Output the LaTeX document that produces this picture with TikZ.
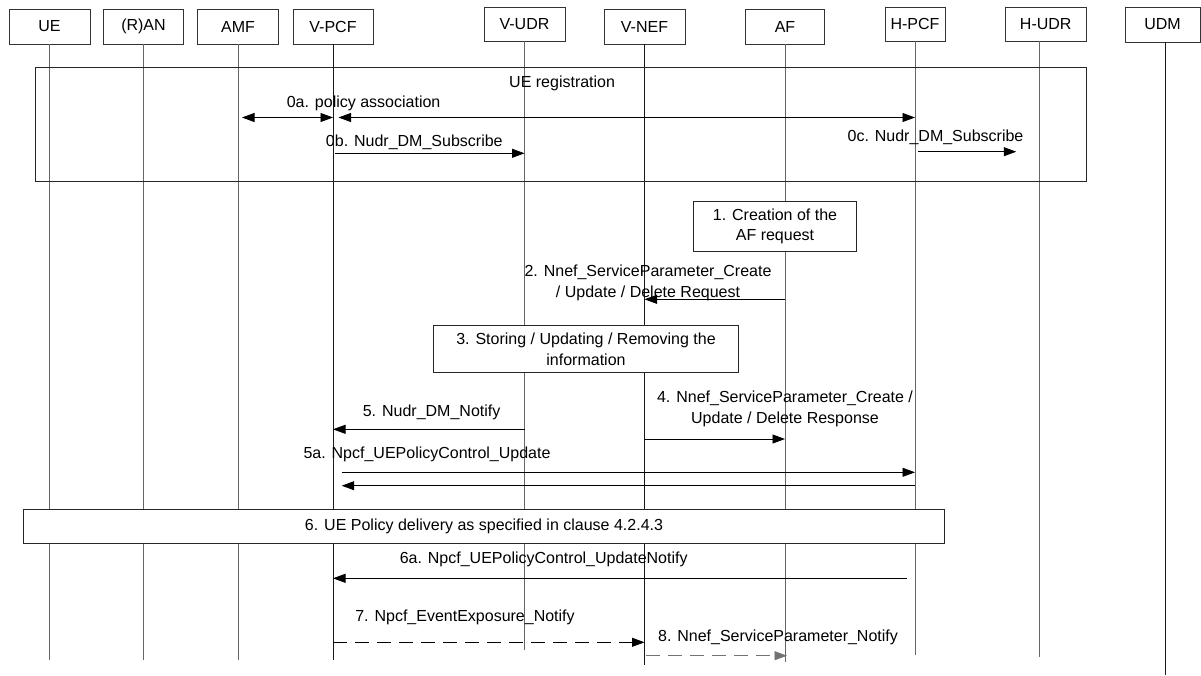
\documentclass[tikz,border=0pt]{standalone}
\usepackage{fontspec}
\setmainfont{Liberation Sans}
\usetikzlibrary{arrows.meta,calc}
\begin{document}
\begin{tikzpicture}[x=1pt,y=-1pt,
  txt/.style={font=\fontsize{16}{20.5}\selectfont, inner sep=0pt, align=center},
  hdr/.style={txt, draw=black!80, line width=0.8pt, fill=white},
  stepbox/.style={txt, draw=black!85, line width=0.8pt, fill=white},
  lifeline/.style={draw=black!60, line width=1pt},
  darkline/.style={draw=black!90, line width=0.9pt},
  msg/.style={draw=black, line width=0.8pt, -{Triangle[length=12.5pt,width=9pt]}},
  bimsg/.style={draw=black, line width=0.8pt, {Triangle[length=12.5pt,width=9pt]}-{Triangle[length=12.5pt,width=9pt]}},
  dashmsg/.style={msg, dash pattern=on 14pt off 8pt},
  graydash/.style={msg, draw=black!55, dash pattern=on 14pt off 8pt}
]
\useasboundingbox (0,0) rectangle (1201,675);

% header boxes
\node[hdr, minimum width=81, minimum height=35] (ue)   at (49.5,26.5) {UE};
\node[hdr, minimum width=80, minimum height=35] (ran)  at (143.5,26.5) {(R)AN};
\node[hdr, minimum width=81, minimum height=35] (amf)  at (238,26.5) {AMF};
\node[hdr, minimum width=80, minimum height=35] (vpcf) at (333,26.5) {V-PCF};
\node[hdr, minimum width=81, minimum height=34] (vudr) at (524.5,24) {V-UDR};
\node[hdr, minimum width=81, minimum height=35] (vnef) at (644.5,26.5) {V-NEF};
\node[hdr, minimum width=79, minimum height=35] (af)   at (785,26.5) {AF};
\node[hdr, minimum width=60, minimum height=34] (hpcf) at (915,24) {H-PCF};
\node[hdr, minimum width=80.5, minimum height=34] (hudr) at (1045.75,24) {H-UDR};
\node[hdr, minimum width=75, minimum height=35] (udm)  at (1162.5,24.5) {UDM};

% lifeline anchor points
\coordinate (hudrT) at ($(hudr.south)+(-6.5,0)$);
\coordinate (udmT)  at ($(udm.south)+(3,0)$);
\coordinate (ueB)   at (ue.south |- 0,660);
\coordinate (ranB)  at (ran.south |- 0,660);
\coordinate (amfB)  at (amf.south |- 0,660);
\coordinate (vpcfB) at (vpcf.south |- 0,660);
\coordinate (vudrB) at (vudr.south |- 0,650);
\coordinate (vnefB) at (vnef.south |- 0,665);
\coordinate (afB)   at (af.south |- 0,662);
\coordinate (hpcfB) at (hpcf.south |- 0,655);
\coordinate (hudrB) at (hudrT |- 0,657);
\coordinate (udmB)  at (udmT |- 0,675);

% lifelines
\draw[lifeline] (ue.south) -- (ueB);
\draw[lifeline] (ran.south) -- (ranB);
\draw[lifeline] (amf.south) -- (amfB);
\draw[darkline] (vpcf.south) -- (vpcfB);
\draw[lifeline] (vudr.south) -- (vudrB);
\draw[darkline] (vnef.south) -- (vnefB);
\draw[lifeline] (af.south) -- (afB);
\draw[lifeline] (hpcf.south) -- (hpcfB);
\draw[lifeline, line width=1.3pt] (hudrT) -- (hudrB);
\draw[darkline, line width=1.1pt] (udmT) -- (udmB);

% message levels
\coordinate (m0a) at (0,117.5);
\coordinate (m0b) at (0,153.3);
\coordinate (m0c) at (0,151.7);
\coordinate (m2)  at (0,299.3);
\coordinate (m5)  at (0,429.3);
\coordinate (m4)  at (0,439);
\coordinate (m5a) at (0,472.3);
\coordinate (m5b) at (0,485.7);
\coordinate (m6a) at (0,578.3);
\coordinate (m7)  at (0,642.3);
\coordinate (m8)  at (0,655.7);

% UE registration frame
\node[draw=black!85, line width=0.8pt, minimum width=1051.5, minimum height=114, anchor=north west, inner sep=0pt] (reg) at (34.5,67) {};
\node[txt] (regl) at ($(reg.north)+(1.5,16)$) {UE registration};

% 0a
\draw[bimsg] ($(amf |- m0a)+(4,0)$) -- (vpcf |- m0a);
\draw[bimsg] ($(vpcf |- m0a)+(5.5,0)$) -- (hpcf |- m0a);
\node[txt] (l0a) at (363.6,103) {0a. policy association};

% 0b
\draw[msg] ($(vpcf |- m0b)+(2,0)$) -- (vudr |- m0b);
\node[txt] (l0b) at (414.3,142.7) {0b. Nudr\_DM\_Subscribe};

% 0c
\draw[msg] ($(hpcf |- m0c)+(3,0)$) -- ($(hudrT |- m0c)+(-23,0)$);
\node[txt] (l0c) at (935.5,137) {0c. Nudr\_DM\_Subscribe};

% 1
\node[stepbox, minimum width=162.5, minimum height=49.6] (s1) at (775,226.5) {1. Creation of the\\AF request};

% 2
\draw[msg] (af |- m2) -- (vnef |- m2);
\node[txt] (l2) at (648,283) {2. Nnef\_ServiceParameter\_Create\\/ Update / Delete Request};

% 3
\node[stepbox, minimum width=304.7, minimum height=47] (s3) at (586,349.2) {3. Storing / Updating / Removing the\\information};

% 5
\draw[msg] (vudr |- m5) -- (vpcf |- m5);
\node[txt] (l5) at (431.6,412.7) {5. Nudr\_DM\_Notify};

% 4
\draw[msg] (vnef |- m4) -- (af |- m4);
\node[txt] (l4) at (785,409) {4. Nnef\_ServiceParameter\_Create /\\Update / Delete Response};

% 5a
\draw[msg] ($(vpcf |- m5a)+(8.7,0)$) -- (hpcf |- m5a);
\draw[msg] (hpcf |- m5b) -- ($(vpcf |- m5b)+(8.7,0)$);
\node[txt] (l5a) at (427,454) {5a. Npcf\_UEPolicyControl\_Update};

% 6
\node[stepbox, minimum width=920.5, minimum height=34] (s6) at (484,526.3) {6. UE Policy delivery as specified in clause 4.2.4.3};

% 6a
\draw[msg] ($(hpcf |- m6a)+(-8.5,0)$) -- (vpcf |- m6a);
\node[txt] (l6a) at (543.7,559.3) {6a. Npcf\_UEPolicyControl\_UpdateNotify};

% 7
\draw[dashmsg] (vpcf |- m7) -- (vnef |- m7);
\node[txt] (l7) at (465,617) {7. Npcf\_EventExposure\_Notify};

% 8
\draw[graydash] ($(vnef |- m8)+(1.5,0)$) -- ($(af |- m8)+(2,0)$);
\node[txt] (l8) at (778,637.3) {8. Nnef\_ServiceParameter\_Notify};

\end{tikzpicture}
\end{document}
